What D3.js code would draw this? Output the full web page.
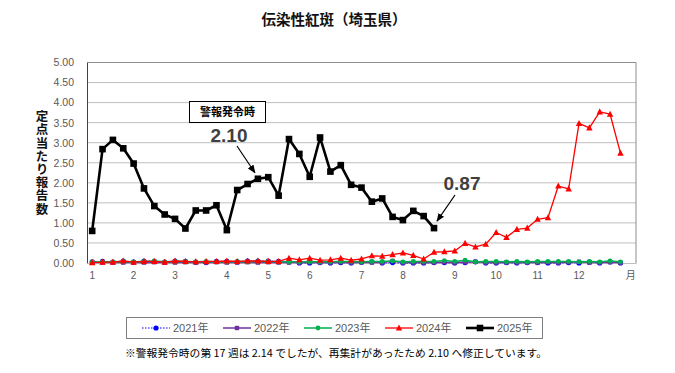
<!DOCTYPE html>
<html><head><meta charset="utf-8">
<script src="https://cdn.jsdelivr.net/npm/d3@7"></script>
<style>
html,body{margin:0;padding:0;background:#fff;}
svg{display:block;}
</style>
</head><body>
<svg id="chart" width="675" height="373"></svg>
<script>
// ---- data ----
const weeks = d3.range(1, 54); // 53 category slots
const seriesNames = ["2021年", "2022年", "2023年", "2024年", "2025年"];
const v2021 = [0.03,0.04,0.02,0.05,0.02,0.05,0.04,0.02,0.05,0.04,0.02,0.01,0.04,0.04,0.03,0.05,0.05,0.05,0.04,0.03,0.00,0.00,0.01,0.00,0.01,0.00,0.02,0.03,0.00,0.01,0.00,0.00,0.00,0.01,0.01,0.00,0.01,0.03,0.00,0.00,0.01,0.00,0.01,0.01,0.00,0.00,0.01,0.00,0.02,0.00,0.03,0.00];
const v2022 = [0.01,0.01,0.02,0.01,0.01,0.01,0.02,0.01,0.01,0.02,0.01,0.01,0.02,0.01,0.01,0.02,0.01,0.02,0.01,0.01,0.01,0.02,0.01,0.01,0.02,0.01,0.02,0.01,0.01,0.05,0.01,0.01,0.01,0.01,0.02,0.01,0.02,0.03,0.01,0.01,0.01,0.01,0.01,0.01,0.02,0.01,0.02,0.03,0.01,0.01,0.02,0.01];
const v2023 = [0.02,0.03,0.03,0.04,0.03,0.04,0.05,0.03,0.04,0.04,0.03,0.04,0.03,0.03,0.04,0.03,0.04,0.04,0.03,0.03,0.03,0.03,0.03,0.03,0.04,0.04,0.03,0.04,0.04,0.05,0.03,0.04,0.04,0.04,0.06,0.04,0.07,0.03,0.04,0.04,0.03,0.04,0.03,0.04,0.04,0.04,0.04,0.03,0.04,0.03,0.05,0.03];
const v2024 = [0.01,0.02,0.02,0.05,0.02,0.04,0.04,0.02,0.05,0.04,0.03,0.04,0.04,0.05,0.04,0.05,0.05,0.04,0.04,0.12,0.08,0.12,0.07,0.08,0.12,0.07,0.10,0.18,0.17,0.21,0.25,0.19,0.10,0.27,0.28,0.30,0.49,0.40,0.47,0.76,0.64,0.84,0.87,1.09,1.13,1.92,1.85,3.48,3.37,3.77,3.71,2.74];
const v2025 = [0.80,2.84,3.07,2.86,2.48,1.86,1.42,1.21,1.10,0.86,1.31,1.31,1.44,0.82,1.82,1.97,2.10,2.14,1.68,3.09,2.72,2.15,3.13,2.28,2.44,1.95,1.88,1.53,1.61,1.15,1.07,1.30,1.17,0.87];
const monthLabels = ["1","2","3","4","5","6","7","8","9","10","11","12","月"];
const monthWeeks  = [1,5,9,14,18,22,27,31,36,40,44,48,53];
const yTicks = [0,0.5,1,1.5,2,2.5,3,3.5,4,4.5,5];
const titleText = "伝染性紅斑（埼玉県）";
const yTitle = "定点当たり報告数";
const alertLabel = "警報発令時";
const alertWeek = 17, alertValue = 2.10;
const lastWeek = 34, lastValue = 0.87;
const footnote = "※警報発令時の第 17 週は 2.14 でしたが、再集計があったため 2.10 へ修正しています。";

const jp = "'Noto Sans CJK JP', 'Noto Sans', sans-serif";
const num = "'Liberation Sans', Arial, 'Noto Sans CJK JP', sans-serif";

const svg = d3.select("#chart");
const L = 87, R = 636, T = 62.5, B = 263;
const x = d3.scaleBand().domain(weeks).range([L, R]).paddingInner(0).paddingOuter(0);
const xc = w => x(w) + x.bandwidth() / 2;
const y = d3.scaleLinear().domain([0, 5]).range([B, T]);

// title
svg.append("text").attr("x", 334).attr("y", 25).attr("text-anchor", "middle")
  .style("font-family", jp).style("font-weight", "bold").style("font-size", "14.5px").attr("fill", "#111")
  .text(titleText);

// grid
svg.append("g").selectAll("line").data(yTicks.filter(t => t > 0)).join("line")
  .attr("x1", L).attr("x2", R).attr("y1", d => y(d)).attr("y2", d => y(d))
  .attr("stroke", t => t === 5 ? "#8c8c8c" : "#bfbfbf").attr("stroke-width", 1);
// right border
svg.append("line").attr("x1", R).attr("x2", R).attr("y1", y(5)).attr("y2", y(0))
  .attr("stroke", "#8c8c8c").attr("stroke-width", 1);

// y axis
const yAxis = d3.axisLeft(y).tickValues(yTicks).tickFormat(d3.format(".2f")).tickSize(0).tickPadding(13);
const gy = svg.append("g").attr("transform", `translate(${L},0)`).call(yAxis);
gy.select(".domain").attr("stroke", "#404040");
gy.selectAll("text").style("font-family", num).style("font-size", "10.5px").attr("fill", "#595959");

// x axis
const xAxis = d3.axisBottom(x).tickValues(monthWeeks)
  .tickFormat(w => monthLabels[monthWeeks.indexOf(w)]).tickSize(0).tickPadding(9);
const gx = svg.append("g").attr("transform", `translate(0,${B})`).call(xAxis);
gx.select(".domain").attr("stroke", "#bfbfbf");
gx.selectAll("text").style("font-family", num).style("font-size", "10px").attr("fill", "#595959");
gx.selectAll(".tick").filter(w => w === 53).select("text").style("font-family", jp);

// y title (vertical writing, one text element)
svg.append("text").attr("x", 42).attr("y", 163)
  .attr("text-anchor", "middle")
  .style("writing-mode", "vertical-rl").style("text-orientation", "upright")
  .style("letter-spacing", "0.7px")
  .style("font-family", jp).style("font-weight", "bold").style("font-size", "12.5px").attr("fill", "#111")
  .text(yTitle);

// series
const series = [
  {name: seriesNames[0], vals: v2021, color: "#0000ff", w: 1, dash: "1.5,1.5", marker: "circle", ms: 2.6},
  {name: seriesNames[1], vals: v2022, color: "#7030a0", w: 1.5, dash: null, marker: "square", ms: 2.2},
  {name: seriesNames[2], vals: v2023, color: "#00b050", w: 1.5, dash: null, marker: "circle", ms: 2.4},
  {name: seriesNames[3], vals: v2024, color: "#ff0000", w: 1.3, dash: null, marker: "triangle", ms: 3.2},
  {name: seriesNames[4], vals: v2025, color: "#000000", w: 2.6, dash: null, marker: "square", ms: 3.3}
];

function drawMarker(g, type, cx, cy, s, color) {
  if (type === "circle") {
    g.append("circle").attr("cx", cx).attr("cy", cy).attr("r", s).attr("fill", color);
  } else if (type === "square") {
    g.append("rect").attr("x", cx - s).attr("y", cy - s).attr("width", 2 * s).attr("height", 2 * s).attr("fill", color);
  } else {
    g.append("path").attr("d", `M${cx},${cy - s * 1.1}L${cx + s},${cy + s * 0.8}L${cx - s},${cy + s * 0.8}Z`).attr("fill", color);
  }
}

const line = d3.line().x((d, i) => xc(weeks[i])).y(d => y(d));
series.forEach(s => {
  const g = svg.append("g");
  g.append("path").attr("d", line(s.vals)).attr("fill", "none").attr("stroke", s.color)
    .attr("stroke-width", s.w).attr("stroke-dasharray", s.dash).attr("stroke-linejoin", "round");
  s.vals.forEach((v, i) => drawMarker(g, s.marker, xc(weeks[i]), y(v), s.ms, s.color));
});

// annotations
svg.append("defs").append("marker").attr("id", "ah").attr("viewBox", "0 0 10 10")
  .attr("refX", 9).attr("refY", 5).attr("markerWidth", 7).attr("markerHeight", 7).attr("orient", "auto")
  .append("path").attr("d", "M0,1L10,5L0,9Z").attr("fill", "#000");

svg.append("rect").attr("x", 189.5).attr("y", 101.5).attr("width", 76).attr("height", 21)
  .attr("fill", "#fff").attr("stroke", "#000").attr("stroke-width", 1);
svg.append("text").attr("x", 227.5).attr("y", 116).attr("text-anchor", "middle")
  .style("font-family", jp).style("font-weight", "bold").style("font-size", "11px").attr("fill", "#000")
  .text(alertLabel);

svg.append("text").attr("x", 229).attr("y", 142).attr("text-anchor", "middle")
  .style("font-family", num).style("font-weight", "bold").style("font-size", "19px").attr("fill", "#404040")
  .text(d3.format(".2f")(alertValue));
svg.append("line").attr("x1", 237).attr("y1", 146).attr("x2", xc(alertWeek) - 3).attr("y2", y(alertValue) - 6)
  .attr("stroke", "#000").attr("stroke-width", 1.2).attr("marker-end", "url(#ah)");

svg.append("text").attr("x", 462).attr("y", 190).attr("text-anchor", "middle")
  .style("font-family", num).style("font-weight", "bold").style("font-size", "19px").attr("fill", "#404040")
  .text(d3.format(".2f")(lastValue));
svg.append("line").attr("x1", 455).attr("y1", 195).attr("x2", xc(lastWeek) + 3).attr("y2", y(lastValue) - 7)
  .attr("stroke", "#000").attr("stroke-width", 1.2).attr("marker-end", "url(#ah)");

// legend
const lg = svg.append("g");
lg.append("rect").attr("x", 126.5).attr("y", 317.5).attr("width", 416).attr("height", 21)
  .attr("fill", "#fff").attr("stroke", "#808080").attr("stroke-width", 1);
const legX = [142, 223, 304, 385, 466];
series.forEach((s, i) => {
  const ly = 328;
  lg.append("line").attr("x1", legX[i]).attr("x2", legX[i] + 28).attr("y1", ly).attr("y2", ly)
    .attr("stroke", s.color).attr("stroke-width", s.w).attr("stroke-dasharray", s.dash);
  drawMarker(lg, s.marker, legX[i] + 14, ly, s.ms, s.color);
  lg.append("text").attr("x", legX[i] + 31).attr("y", ly + 4)
    .style("font-family", num).style("font-size", "11px").attr("fill", "#595959").text(s.name);
});

// footnote
svg.append("text").attr("x", 125).attr("y", 357).attr("textLength", 422).attr("lengthAdjust", "spacingAndGlyphs")
  .style("font-family", jp).style("font-size", "10.5px").attr("fill", "#000").text(footnote);
</script>
</body></html>
